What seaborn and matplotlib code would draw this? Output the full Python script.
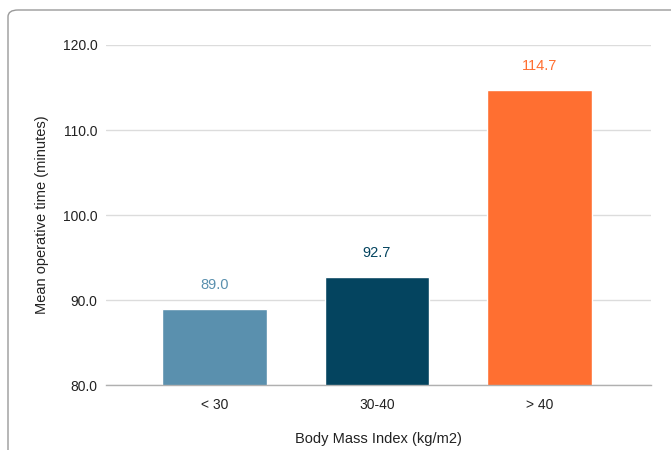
import matplotlib
matplotlib.use("Agg")
import matplotlib.pyplot as plt
from matplotlib.patches import FancyBboxPatch
import seaborn as sns
import pandas as pd

categories = ["< 30", "30-40", "> 40"]
mean_times = [89.0, 92.7, 114.7]
value_labels = ["89.0", "92.7", "114.7"]
y_ticks = [80, 90, 100, 110, 120]
y_tick_labels = ["80.0", "90.0", "100.0", "110.0", "120.0"]
bar_colors = ["#5A90AE", "#04445F", "#FF6F31"]

sns.set_theme(style="white")
plt.rcParams["font.family"] = ["Liberation Sans", "DejaVu Sans"]

df = pd.DataFrame({"bmi": categories, "time": mean_times})

fig = plt.figure(figsize=(6.71, 4.5), dpi=100)
ax = fig.add_axes([0.158, 0.1444, 0.812, 0.7556])

sns.barplot(data=df, x="bmi", y="time", hue="bmi", palette=bar_colors,
            legend=False, width=0.646, ax=ax, saturation=1, zorder=3)

ax.set_ylim(80, 120)
ax.set_xlim(-0.668, 2.686)
ax.set_yticks(y_ticks)
ax.set_yticklabels(y_tick_labels)
ax.yaxis.grid(True, color="#dcdcdc", linewidth=1.0, zorder=0)
ax.set_axisbelow(True)
for s in ["top", "right", "left"]:
    ax.spines[s].set_visible(False)
ax.spines["bottom"].set_color("#b0b0b0")
ax.spines["bottom"].set_linewidth(1.0)
ax.spines["bottom"].set_zorder(4)
ax.tick_params(axis="both", length=0, labelsize=10, colors="#222222")
ax.tick_params(axis="y", pad=6)
ax.tick_params(axis="x", pad=9)

for i, (v, lab) in enumerate(zip(mean_times, value_labels)):
    ax.annotate(lab, (i, v), xytext=(0, 12), textcoords="offset points",
                ha="center", va="bottom", fontsize=10.5, color=bar_colors[i])

ax.set_xlabel("Body Mass Index (kg/m2)", fontsize=10.5, color="#222222", labelpad=15)
ax.set_ylabel("Mean operative time (minutes)", fontsize=10.5, color="#222222", labelpad=10)

frame = FancyBboxPatch((8 / 671, -0.2), 1.2, 1.2 - 10 / 450,
                       boxstyle="round,pad=0,rounding_size=0.015",
                       transform=fig.transFigure, fill=False,
                       edgecolor="#9a9a9a", linewidth=1.0, clip_on=False)
fig.patches.append(frame)

fig.savefig("out.png", dpi=100)
